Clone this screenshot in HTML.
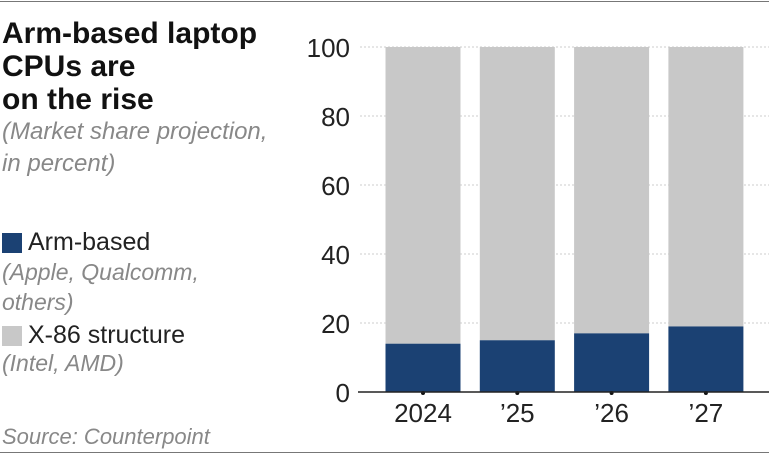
<!DOCTYPE html>
<html><head><meta charset="utf-8"><style>
body{margin:0;width:769px;height:460px;background:#fff;overflow:hidden;font-family:"Liberation Sans",sans-serif;position:relative}
.t{position:absolute;white-space:nowrap}
</style></head><body>
<div style="position:absolute;left:0;top:1px;width:769px;height:1px;background:#777"></div>
<div style="position:absolute;left:0;top:452px;width:769px;height:1px;background:#777"></div>
<div class="t" style="left:2px;top:17px;font-size:30px;font-weight:bold;line-height:33px;color:#111">Arm-based laptop<br>CPUs are<br>on the rise</div>
<div class="t" style="left:2px;top:116px;font-size:24px;font-style:italic;line-height:32px;color:#888">(Market share projection,<br>in percent)</div>
<div style="position:absolute;left:2px;top:233px;width:20px;height:20px;background:#1b4173"></div>
<div class="t" style="left:28px;top:228px;font-size:25px;color:#222">Arm-based</div>
<div class="t" style="left:2px;top:257px;font-size:23px;font-style:italic;line-height:30px;color:#888">(Apple, Qualcomm,<br>others)</div>
<div style="position:absolute;left:2px;top:326px;width:20px;height:20px;background:#c8c8c8"></div>
<div class="t" style="left:28px;top:321px;font-size:25px;color:#222">X-86 structure</div>
<div class="t" style="left:2px;top:350px;font-size:23px;font-style:italic;color:#888">(Intel, AMD)</div>
<div class="t" style="left:2px;top:424px;font-size:22px;font-style:italic;color:#888">Source: Counterpoint</div>
<svg id="chart" width="769" height="460" style="position:absolute;left:0;top:0"></svg>
<script>
const categories=["2024","\u201925","\u201926","\u201927"];
const armValues=[14,15,17,19];
const totalValues=[100,100,100,100];
const yTicks=[0,20,40,60,80,100];
const svg=document.getElementById('chart');
const NS='http://www.w3.org/2000/svg';
const y0=392,yTop=47;
function yScale(v){return y0-(y0-yTop)*v/100;}
function xCenter(i){return 423+i*94.3;}
const bw=75;
function mk(t,a){const e=document.createElementNS(NS,t);for(const k in a)e.setAttribute(k,a[k]);svg.appendChild(e);return e;}
yTicks.forEach(v=>{
  if(v>0){const g=mk('line',{x1:360,x2:769,y1:yScale(v),y2:yScale(v),stroke:'#ccc','stroke-dasharray':'2,2'});
  
  }
  const t=mk('text',{x:350,y:yScale(v)+10,'text-anchor':'end','font-size':26,fill:'#222','font-family':'Liberation Sans, sans-serif'});
  t.textContent=v;
  
  
});
categories.forEach((c,i)=>{
  const x=xCenter(i)-bw/2;
  const r1=mk('rect',{x:x,y:yScale(totalValues[i]),width:bw,height:yScale(armValues[i])-yScale(totalValues[i]),fill:'#c8c8c8'});
  
  
  const r2=mk('rect',{x:x,y:yScale(armValues[i]),width:bw,height:y0-yScale(armValues[i]),fill:'#1b4173'});
  
  
  const t=mk('text',{x:xCenter(i),y:422,'text-anchor':'middle','font-size':26,fill:'#222','font-family':'Liberation Sans, sans-serif'});
  t.textContent=c;
  
  
  const d=mk('circle',{cx:xCenter(i),cy:y0+1,r:2,fill:'#111'});
  
  
});
const ax=mk('line',{x1:358,x2:769,y1:y0,y2:y0,stroke:'#222','stroke-width':1.5});


</script>
</body></html>
